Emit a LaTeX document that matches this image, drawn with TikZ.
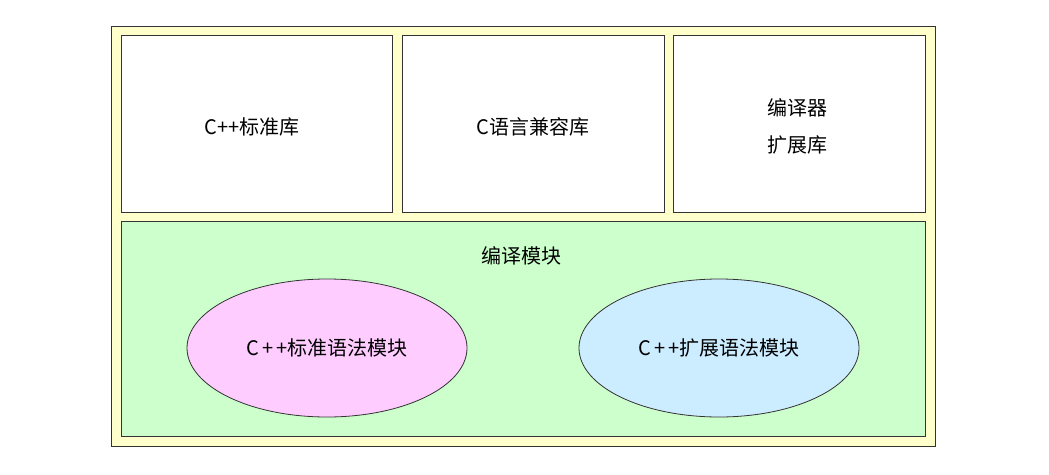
\documentclass[tikz,border=0pt]{standalone}
\usepackage{fontspec}
\setmainfont{Noto Sans CJK SC}
\usetikzlibrary{shapes.geometric}
\begin{document}
\begin{tikzpicture}[x=1pt,y=-1pt,
  box/.style={draw=black!80,line width=0.8pt},
  lbl/.style={font=\fontsize{20}{37}\selectfont,align=center}]
\useasboundingbox (0,0) rectangle (1049,474);
\fill[white] (0,0) rectangle (1049,474);
\draw[box,fill={rgb,255:red,255;green,255;blue,204}] (111,26) rectangle (935,446);
\draw[box,fill=white] (121,35) rectangle (392,212);
\draw[box,fill=white] (402,35) rectangle (664,212);
\draw[box,fill=white] (673,35) rectangle (925,212);
\draw[box,fill={rgb,255:red,204;green,255;blue,204}] (121,221) rectangle (925,436);
\node[lbl] (a) at (252,127) {C++标准库};
\node[lbl] (b) at (533,127) {C语言兼容库};
\node[lbl] (c) at (797,126) {编译器\\扩展库};
\node[lbl] (d) at (521,256) {编译模块};
\node[box,ellipse,fill={rgb,255:red,255;green,204;blue,255},minimum width=280pt,minimum height=138pt,lbl] (e) at (327,348) {C\,+\,+标准语法模块};
\node[box,ellipse,fill={rgb,255:red,204;green,236;blue,255},minimum width=280pt,minimum height=138pt,lbl] (f) at (719,348) {C\,+\,+扩展语法模块};
\end{tikzpicture}
\end{document}
